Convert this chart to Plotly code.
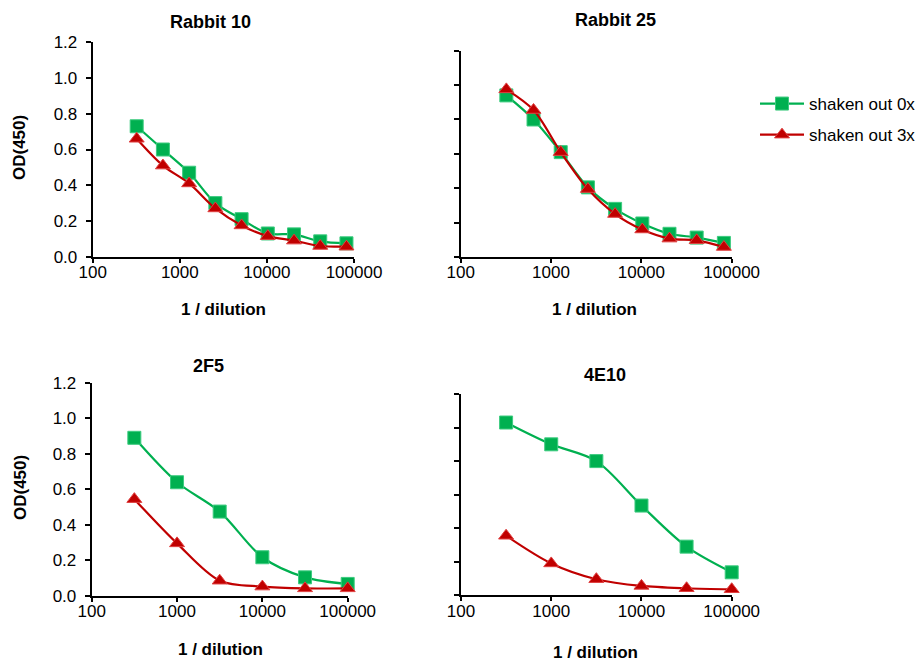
import plotly.graph_objects as go

# ---------------- data ----------------
panel_titles = ["Rabbit 10", "Rabbit 25", "2F5", "4E10"]
series_names = ["shaken out 0x", "shaken out 3x"]

rabbit_x = [320, 640, 1280, 2560, 5120, 10240, 20480, 40960, 81920]
mab_x = [316, 1000, 3162, 10000, 31623, 100000]

rabbit10_0x = [0.73, 0.60, 0.47, 0.30, 0.21, 0.13, 0.125, 0.086, 0.075]
rabbit10_3x = [0.66, 0.51, 0.41, 0.27, 0.175, 0.115, 0.09, 0.06, 0.056]

rabbit25_0x = [0.94, 0.80, 0.61, 0.405, 0.28, 0.195, 0.135, 0.113, 0.082]
rabbit25_3x = [0.975, 0.855, 0.61, 0.395, 0.25, 0.16, 0.107, 0.097, 0.058]

mab2f5_0x = [0.89, 0.64, 0.475, 0.218, 0.105, 0.068]
mab2f5_3x = [0.545, 0.296, 0.086, 0.053, 0.043, 0.043]

mab4e10_0x = [1.03, 0.90, 0.80, 0.535, 0.29, 0.137]
mab4e10_3x = [0.355, 0.19, 0.096, 0.056, 0.042, 0.036]

x_tickvals = [100, 1000, 10000, 100000]
x_ticktext = ["100", "1000", "10000", "100000"]
y_tickvals = [0.0, 0.2, 0.4, 0.6, 0.8, 1.0, 1.2]

GREEN = "#00B050"
RED = "#C00000"
FONT = "Liberation Sans, Arial, Helvetica, sans-serif"
W, H = 921, 661

# panel pixel boxes: (x0, x1, ytop, ybottom)
boxes = [
    (92.7, 354.0, 42.3, 256.7),
    (460.7, 731.7, 50.7, 257.0),
    (91.7, 347.7, 382.7, 596.0),
    (461.0, 731.7, 394.0, 595.3),
]

panels = [
    (rabbit_x, rabbit10_0x, rabbit10_3x),
    (rabbit_x, rabbit25_0x, rabbit25_3x),
    (mab_x, mab2f5_0x, mab2f5_3x),
    (mab_x, mab4e10_0x, mab4e10_3x),
]

fig = go.Figure()
layout = dict(
    width=W, height=H,
    margin=dict(l=0, r=0, t=0, b=0, pad=0, autoexpand=False),
    paper_bgcolor="white", plot_bgcolor="white",
    font=dict(family=FONT, size=17, color="black"),
    showlegend=True,
    legend=dict(x=1.0, y=1 - 86 / H, xanchor="right", yanchor="top",
                font=dict(size=17, family=FONT), bgcolor="rgba(0,0,0,0)",
                tracegroupgap=6, itemwidth=44),
)

for i, ((xs, g, r), (x0, x1, yt, yb)) in enumerate(zip(panels, boxes)):
    n = i + 1
    xa = "x" if n == 1 else f"x{n}"
    ya = "y" if n == 1 else f"y{n}"
    left = i in (0, 2)
    layout["xaxis" if n == 1 else f"xaxis{n}"] = dict(
        type="log", range=[2, 5], domain=[x0 / W, x1 / W], anchor=ya,
        showline=True, linecolor="black", linewidth=2, mirror=False,
        showgrid=False, zeroline=False, automargin=False,
        ticks="outside", ticklen=4, tickwidth=2, tickcolor="black",
        tickvals=x_tickvals, ticktext=x_ticktext, ticklabelstandoff=-5,
        tickfont=dict(size=17, family=FONT), fixedrange=True,
    )
    layout["yaxis" if n == 1 else f"yaxis{n}"] = dict(
        range=[0, 1.2], domain=[1 - yb / H, 1 - yt / H], anchor=xa,
        showline=True, linecolor="black", linewidth=2,
        showgrid=False, zeroline=False, automargin=False,
        ticks="outside", ticklen=5, tickwidth=2, tickcolor="black",
        tickvals=y_tickvals, tickformat=".1f", showticklabels=left,
        ticklabelstandoff=5,
        tickfont=dict(size=17, family=FONT), fixedrange=True,
    )
    fig.add_trace(go.Scatter(
        x=xs, y=g, xaxis=xa, yaxis=ya, name=series_names[0],
        mode="lines+markers", showlegend=(i == 1), legendgroup="g",
        line=dict(color=GREEN, width=2.2, shape="spline", smoothing=0.9),
        marker=dict(symbol="square", size=13, color=GREEN,
                    line=dict(color="#3CCB7F", width=1)),
        cliponaxis=False,
    ))
    fig.add_trace(go.Scatter(
        x=xs, y=r, xaxis=xa, yaxis=ya, name=series_names[1],
        mode="lines+markers", showlegend=(i == 1), legendgroup="r",
        line=dict(color=RED, width=2.2, shape="spline", smoothing=0.9),
        marker=dict(symbol="triangle-up", size=13, color=RED,
                    line=dict(color="#E04040", width=1)),
        cliponaxis=False,
    ))

annotations = []
title_pos = [(210, 22), (615, 20), (208, 366), (605, 375)]
for t, (px, py) in zip(panel_titles, title_pos):
    annotations.append(dict(text=f"<b>{t}</b>", x=px / W, y=1 - py / H,
                            xref="paper", yref="paper", showarrow=False,
                            xanchor="center", yanchor="middle",
                            font=dict(size=18, family=FONT)))
xt_pos = [(223, 310), (594, 310), (220, 649), (595, 652)]
for px, py in xt_pos:
    annotations.append(dict(text="<b>1 / dilution</b>", x=px / W, y=1 - py / H,
                            xref="paper", yref="paper", showarrow=False,
                            xanchor="center", yanchor="middle",
                            font=dict(size=17, family=FONT)))
for py in (148, 488):
    annotations.append(dict(text="<b>OD(450)</b>", x=20 / W, y=1 - py / H,
                            xref="paper", yref="paper", showarrow=False,
                            textangle=-90, xanchor="center", yanchor="middle",
                            font=dict(size=17, family=FONT)))
layout["annotations"] = annotations

fig.update_layout(**layout)
fig.write_html(
    "out.html",
    config={"displayModeBar": False, "staticPlot": True},
    post_script="document.body.style.margin='0';document.body.style.overflow='hidden';",
)
